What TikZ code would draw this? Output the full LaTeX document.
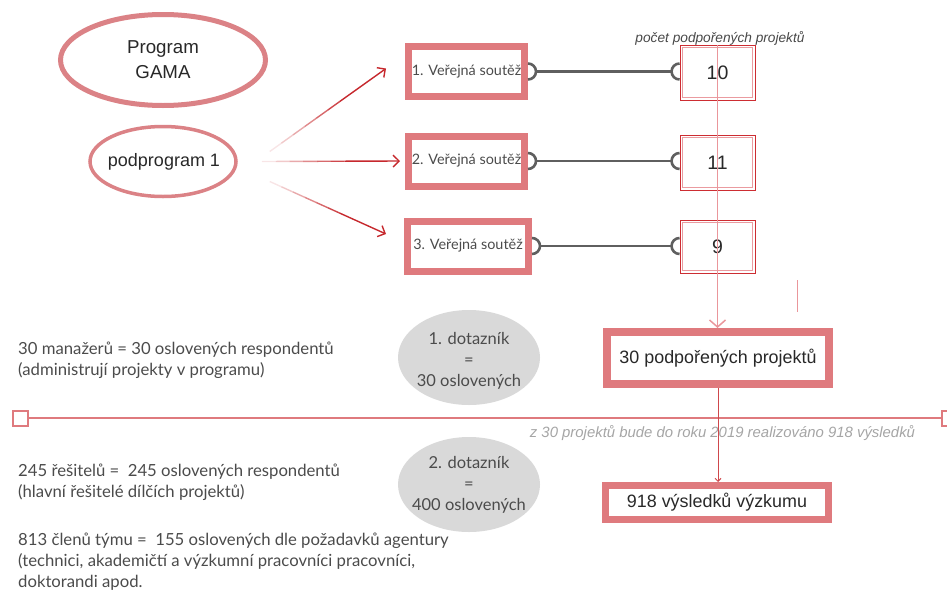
\documentclass[tikz,border=0pt]{standalone}
\usepackage{fontspec}
\setmainfont{Liberation Sans}
\newfontfamily\hum{Lato}
\usetikzlibrary{shapes.geometric,arrows.meta,calc}
\definecolor{pinkb}{RGB}{223,122,126}
\definecolor{pinke}{RGB}{219,130,134}
\definecolor{darkr}{RGB}{198,40,45}
\definecolor{numout}{RGB}{205,45,50}
\definecolor{numin}{RGB}{234,155,160}
\definecolor{txt}{RGB}{40,40,40}
\definecolor{htxt}{RGB}{75,75,75}
\definecolor{grayfill}{RGB}{217,217,217}
\definecolor{conng}{RGB}{95,95,95}
\definecolor{capg}{RGB}{165,165,165}
\definecolor{thinp}{RGB}{234,150,155}
\begin{document}
\begin{tikzpicture}[x=1pt,y=-1pt,
  ell/.style={ellipse, draw=pinke, inner sep=0pt},
  elltxt/.style={inner sep=0pt, align=center, text=txt},
  soutez/.style={rectangle, draw=pinkb, line width=7pt, minimum height=50pt, inner sep=0pt, font=\hum\fontsize{14.4}{16}\selectfont, text=htxt},
  numbox/.style={rectangle, draw=numout, line width=0.9pt, minimum width=75pt, minimum height=55pt, inner sep=0pt, font=\fontsize{19.5}{22}\selectfont, text=txt},
  innerbox/.style={draw=numin, line width=0.8pt},
  bigbox/.style={rectangle, draw=pinkb, line width=8pt, inner sep=0pt, font=\fontsize{17.9}{21}\selectfont, text=txt},
  dotaz/.style={ellipse, fill=grayfill, minimum width=142pt, minimum height=95pt, inner sep=0pt},
  dotaztxt/.style={inner sep=0pt, align=center, font=\hum\fontsize{16.5}{21}\selectfont, text=htxt},
  lefttxt/.style={anchor=west, align=left, inner sep=0pt, font=\hum\fontsize{16.7}{21}\selectfont, text=htxt},
  conn/.style={draw=conng, line width=2.6pt},
  arr/.style={draw=darkr, line width=1.4pt, -{Straight Barb[length=6pt,width=12pt]}},
  sqbox/.style={rectangle, draw=pinkb, line width=2pt, minimum size=15pt, inner sep=0pt, fill=white},
  captxt/.style={inner sep=0pt, font=\itshape\fontsize{14.9}{17}\selectfont, text=capg},
]
\useasboundingbox (0,0) rectangle (947,592);

% ellipses
\node[ell, line width=5pt, minimum width=205pt, minimum height=91pt] (gama) at (163,60) {};
\node[elltxt, font=\fontsize{18.7}{25}\selectfont] (gamat) at (gama.center) {Program\\GAMA};
\node[ell, line width=3.5pt, minimum width=146pt, minimum height=70pt] (pp) at (163,161.5) {};
\node[elltxt, font=\fontsize{18}{21}\selectfont] (ppt) at ([xshift=1pt]pp.center) {podprogram 1};

% competition boxes
\node[soutez, minimum width=116pt] (b1) at (466.5,71.5) {1. Veřejná soutěž};
\node[soutez, minimum width=116pt] (b2) at (466.5,161) {2. Veřejná soutěž};
\node[soutez, minimum width=121pt] (b3) at (468,246) {3. Veřejná soutěž};

% number boxes
\node[numbox] (n1) at (717.5,72.5) {10};
\node[numbox] (n2) at (717.5,162.5) {11};
\node[numbox, minimum height=53pt] (n3) at (717.5,246.5) {9};
\foreach \n in {n1,n2,n3}{
  \draw[innerbox] ($(\n.north west)+(3,3)$) rectangle ($(\n.south east)+(-3,-3)$);
}
\node[inner sep=0pt, font=\itshape\fontsize{13.7}{15}\selectfont, text=txt!85] (lab) at (720,38) {počet podpořených projektů};

% connectors box -> number
\foreach \b/\n in {b1/n1,b2/n2,b3/n3}{
  \draw[conn] ([yshift=8pt]\b.east) arc[start angle=90,end angle=-90,radius=8pt];
  \draw[conn] ([xshift=8pt]\b.east) -- ([xshift=-9pt]\b.east -| \n.west);
  \draw[conn] ([yshift=8pt]\b.east -| \n.west) arc[start angle=90,end angle=270,radius=8pt];
}

% fading arrows from podprogram
\coordinate (a1s) at ($(pp.east)+(32,-10)$);
\coordinate (a1e) at ($(b1.west)+(-19,-3)$);
\coordinate (a2s) at ($(pp.east)+(24,0)$);
\coordinate (a2e) at ($(b2.west)+(-5,0)$);
\coordinate (a3s) at ($(pp.east)+(32,20)$);
\coordinate (a3e) at ($(b3.west)+(-18,-12)$);
\foreach \s/\e in {a1s/a1e,a2s/a2e,a3s/a3e}{
  \foreach \p/\q/\c in {0/0.1/12,0.1/0.2/25,0.2/0.3/40,0.3/0.4/55,0.4/0.5/70,0.5/0.6/85}{
    \draw[darkr!\c!white, line width=1.4pt] ($(\s)!\p!(\e)$) -- ($(\s)!\q!(\e)$);
  }
  \draw[arr] ($(\s)!0.6!(\e)$) -- (\e);
}

% big boxes
\node[bigbox, minimum width=222pt, minimum height=52pt] (p30) at (718,358) {30 podpořených projektů};
\node[bigbox, line width=7pt, minimum width=223pt, minimum height=34pt] (r918) at (717,502.5) {918 výsledků výzkumu};

% vertical pink line
\draw[thinp, line width=1.5pt, -{Straight Barb[length=7pt,width=16pt]}] (n1.north) -- (n1.north |- p30.north);
\coordinate (s1) at (797,280);
\coordinate (s2) at (797,312);
\draw[thinp, line width=1pt] (s1) -- (s2);

% dividing line
\node[sqbox] (sqL) at (20,418) {};
\node[sqbox] (sqR) at (949,418) {};
\draw[pinkb, line width=2pt] (sqL.east) -- (sqR.west);
\node[captxt] (capt) at (722.5,433) {z 30 projektů bude do roku 2019 realizováno 918 výsledků};

% arrow to results
\draw[darkr!85, line width=1pt, -{Straight Barb[length=3pt,width=6pt]}] (p30.south) -- (p30.south |- r918.north);

% questionnaires
\node[dotaz] (d1) at (469,357.5) {};
\node[dotaztxt] (d1t) at ([yshift=-3pt]d1.center) {1. dotazník\\=\\30 oslovených};
\node[dotaz] (d2) at (469,484.5) {};
\node[dotaztxt] (d2t) at (d2.center) {2. dotazník\\=\\400 oslovených};

% left texts
\node[lefttxt, font=\hum\fontsize{16.7}{20.5}\selectfont] (t1) at (18,360) {30 manažerů = 30 oslovených respondentů\\(administrují projekty v programu)};
\node[lefttxt] (t2) at (18,482.5) {245 řešitelů =\ \ 245 oslovených respondentů\\(hlavní řešitelé dílčích projektů)};
\node[lefttxt] (t3) at (18,562) {813 členů týmu =\ \ 155 oslovených dle požadavků agentury\\(technici, akademičtí a výzkumní pracovníci pracovníci,\\doktorandi apod.};
\end{tikzpicture}
\end{document}
